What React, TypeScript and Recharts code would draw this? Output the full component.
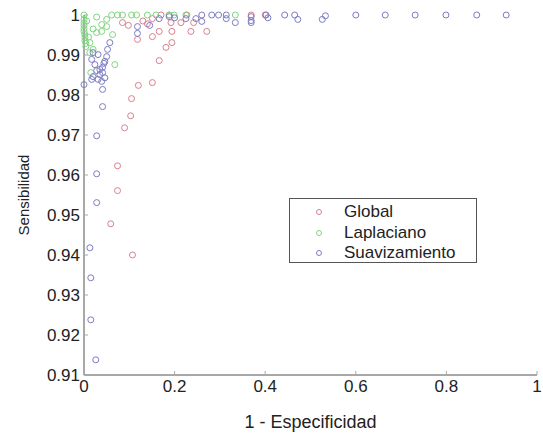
import React from 'react';
import { ScatterChart, Scatter, XAxis, YAxis, Legend } from 'recharts';

const seriesNames = ['Global', 'Laplaciano', 'Suavizamiento'];
const seriesColors = ['#d9808c', '#7fd67f', '#7c7cc4'];

const xTicks = [0, 0.2, 0.4, 0.6, 0.8, 1];
const yTicks = [0.91, 0.92, 0.93, 0.94, 0.95, 0.96, 0.97, 0.98, 0.99, 1];

const globalPts: [number, number][] = [
  [0.059, 0.9478], [0.074, 0.9561], [0.074, 0.9623], [0.107, 0.94], [0.0895, 0.9718],
  [0.103, 0.9748], [0.105, 0.9791], [0.12, 0.9824], [0.151, 0.9831], [0.166, 0.9886],
  [0.181, 0.9919], [0.194, 0.9931], [0.118, 0.9939], [0.151, 0.9946], [0.166, 0.9959],
  [0.194, 0.9959], [0.236, 0.9959], [0.271, 0.9959], [0.098, 0.9974], [0.085, 0.9981],
  [0.151, 0.9991], [0.17, 1.0], [0.188, 1.0], [0.227, 1.0], [0.369, 1.0], [0.4, 1.0],
  [0.192, 0.9981], [0.214, 0.9981], [0.242, 0.9981], [0.13, 0.9985], [0.14, 0.9978],
];

const laplacianoPts: [number, number][] = [
  [0.0, 1.0], [0.0, 0.9989], [0.0, 0.9981], [0.0, 0.9974], [0.0, 0.9966], [0.0, 0.9959],
  [0.002, 0.9951], [0.002, 0.9944], [0.002, 0.9936], [0.004, 0.9929], [0.004, 0.9921],
  [0.013, 0.9931], [0.02, 0.9914], [0.013, 0.9906], [0.028, 0.9995], [0.039, 0.9976],
  [0.05, 0.9989], [0.061, 1.0], [0.074, 1.0], [0.028, 0.9956], [0.039, 0.9959],
  [0.05, 0.9971], [0.063, 0.9951], [0.068, 0.9876], [0.015, 0.9856], [0.085, 1.0],
  [0.105, 1.0], [0.116, 1.0], [0.14, 1.0], [0.159, 1.0], [0.188, 1.0], [0.199, 1.0],
  [0.225, 1.0], [0.334, 1.0], [0.02, 0.9965], [0.01, 0.9945], [0.006, 0.9985],
];

const suavizamientoPts: [number, number][] = [
  [0.028, 0.9698], [0.028, 0.9603], [0.028, 0.9531], [0.013, 0.9418], [0.015, 0.9343],
  [0.015, 0.9238], [0.026, 0.9138], [0.0, 0.9826],
  [0.02, 0.9906], [0.017, 0.9889], [0.031, 0.9901], [0.024, 0.9876], [0.02, 0.9846],
  [0.017, 0.9839], [0.031, 0.9839], [0.039, 0.9834], [0.041, 0.9814], [0.041, 0.9856],
  [0.041, 0.9869], [0.046, 0.9884], [0.05, 0.9896], [0.052, 0.9914], [0.057, 0.9931],
  [0.035, 0.9864], [0.041, 0.9771], [0.035, 0.9851], [0.044, 0.9879], [0.028, 0.9861],
  [0.046, 0.9843],
  [0.118, 0.9971], [0.118, 0.9954], [0.145, 0.9974], [0.166, 0.9991], [0.225, 0.9991],
  [0.247, 0.9991], [0.26, 1.0], [0.282, 1.0], [0.297, 1.0], [0.314, 1.0], [0.314, 0.9991],
  [0.334, 0.9981], [0.369, 0.9996], [0.369, 0.9986], [0.369, 0.9981], [0.402, 1.0],
  [0.406, 0.9993], [0.443, 1.0], [0.465, 1.0], [0.472, 0.9989], [0.526, 0.9989],
  [0.533, 0.9998], [0.6, 1.0], [0.665, 1.0], [0.731, 1.0], [0.799, 1.0], [0.867, 1.0],
  [0.932, 1.0], [0.2, 0.9993], [0.188, 0.9996], [0.26, 0.9984],
];

const toData = (pts: [number, number][]) => pts.map(([x, y]) => ({ x, y }));
const allSeries = [globalPts, laplacianoPts, suavizamientoPts];

const FONT = '"Liberation Sans", Arial, sans-serif';

const makeShape = (color: string) => (props: any) => (
  <circle cx={props.cx} cy={props.cy} r={3} fill="none" stroke={color} strokeWidth={1} />
);

const LegendBox = () => (
  <div
    style={{
      position: 'absolute',
      left: 289,
      top: 198,
      width: 186,
      height: 63,
      border: '1px solid #555',
      background: '#fff',
      fontFamily: FONT,
      fontSize: 17,
      color: '#222',
      boxSizing: 'content-box',
    }}
  >
    {seriesNames.map((n, i) => (
      <div key={n} style={{ position: 'absolute', left: 0, top: 3 + i * 20.5, height: 20, width: 186 }}>
        <svg width={10} height={10} style={{ position: 'absolute', left: 24, top: 5 }}>
          <circle cx={5} cy={5} r={2.5} fill="none" stroke={seriesColors[i]} strokeWidth={1} />
        </svg>
        <span style={{ position: 'absolute', left: 54, top: 0, lineHeight: '20px' }}>{n}</span>
      </div>
    ))}
  </div>
);

export default function App() {
  return (
    <div style={{ position: 'fixed', left: 0, top: 0, width: 543, height: 434, overflow: 'hidden', background: '#fff' }}>
      <ScatterChart width={543} height={434} margin={{ top: 15, right: 6, bottom: 0, left: 0 }}>
        <XAxis
          type="number"
          dataKey="x"
          domain={[0, 1]}
          ticks={xTicks}
          tickFormatter={(v: number) => String(v)}
          height={59}
          tickSize={-4}
          tickMargin={9}
          axisLine={{ stroke: '#a8a8a8', strokeWidth: 2 }}
          tickLine={{ stroke: '#a8a8a8' }}
          tick={{ fill: '#222', fontSize: 17, fontFamily: FONT }}
          label={{ value: '1 - Especificidad', position: 'insideBottom', offset: 6, fill: '#222', fontSize: 18, fontFamily: FONT }}
        />
        <YAxis
          type="number"
          dataKey="y"
          domain={[0.91, 1]}
          ticks={yTicks}
          tickFormatter={(v: number) => (v === 1 ? '1' : v.toFixed(2))}
          width={84}
          tickSize={-4}
          tickMargin={8}
          axisLine={{ stroke: '#a8a8a8', strokeWidth: 2 }}
          tickLine={{ stroke: '#a8a8a8' }}
          tick={{ fill: '#222', fontSize: 17, fontFamily: FONT }}
          label={{ value: 'Sensibilidad', angle: -90, position: 'insideLeft', offset: 24, fill: '#222', fontSize: 15, fontFamily: FONT, style: { textAnchor: 'middle' } }}
        />
        <Legend content={() => <LegendBox />} wrapperStyle={{ position: 'absolute', left: 0, top: 0, width: 0, height: 0 }} />
        {allSeries.map((pts, i) => (
          <Scatter
            key={seriesNames[i]}
            name={seriesNames[i]}
            data={toData(pts)}
            shape={makeShape(seriesColors[i])}
            isAnimationActive={false}
          />
        ))}
      </ScatterChart>
    </div>
  );
}
